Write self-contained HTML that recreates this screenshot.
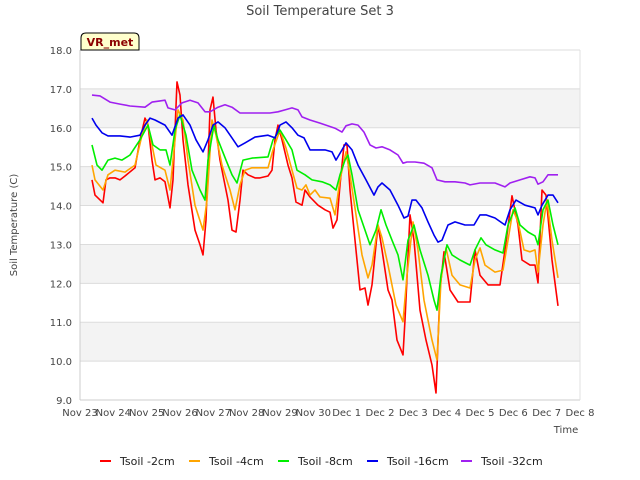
<!DOCTYPE html>
<html><head><meta charset="utf-8"><style>
body{margin:0;background:#fff;font-family:"DejaVu Sans","Liberation Sans",sans-serif;}
svg{display:block}
</style></head><body>
<svg id="chart" width="640" height="480" xmlns="http://www.w3.org/2000/svg">
<text x="320" y="15" text-anchor="middle" font-size="13" fill="#444">Soil Temperature Set 3</text>
<text transform="translate(17,225) rotate(-90)" text-anchor="middle" font-size="10" fill="#444">Soil Temperature (C)</text>
<text x="566" y="433" text-anchor="middle" font-size="10" fill="#444">Time</text>
<g id="bands"></g>
<g id="grid"></g>
<g id="yticks"></g>
<g id="xticks"></g>
<g id="series"></g>
<g>
<path d="M81,50 L81,38 Q81,33 86,33 L134,33 Q139,33 139,38 L139,50 Z" fill="#ffffcc" stroke="#000" stroke-width="1"/>
<text x="110" y="46" text-anchor="middle" font-size="11" font-weight="bold" fill="#8b0000">VR_met</text>
</g>
<g id="legend"></g>
</svg>
<script>
const xTickLabels=["Nov 23","Nov 24","Nov 25","Nov 26","Nov 27","Nov 28","Nov 29","Nov 30","Dec 1","Dec 2","Dec 3","Dec 4","Dec 5","Dec 6","Dec 7","Dec 8"];
const yTicks=[9,10,11,12,13,14,15,16,17,18];
const seriesNames=["Tsoil -2cm","Tsoil -4cm","Tsoil -8cm","Tsoil -16cm","Tsoil -32cm"];
const t2=[0.36,0.45,0.69,0.78,0.9,1.05,1.2,1.35,1.65,1.8,1.95,2.04,2.16,2.25,2.4,2.55,2.7,2.79,2.91,3.0,3.09,3.24,3.45,3.6,3.69,3.78,3.9,3.99,4.08,4.2,4.44,4.56,4.68,4.8,4.89,5.04,5.25,5.4,5.64,5.76,5.85,5.94,6.06,6.24,6.36,6.48,6.66,6.75,6.9,7.14,7.35,7.5,7.59,7.71,7.8,7.92,8.01,8.1,8.25,8.4,8.55,8.64,8.76,8.94,9.06,9.24,9.36,9.51,9.69,9.75,9.9,10.02,10.2,10.38,10.56,10.68,10.8,10.92,11.1,11.34,11.7,11.85,12.0,12.24,12.6,12.75,12.96,13.14,13.26,13.5,13.65,13.74,13.86,13.98,14.16,14.34];
const v2=[14.66,14.27,14.07,14.66,14.71,14.71,14.66,14.76,14.97,15.69,16.25,16.07,15.17,14.66,14.71,14.61,13.94,14.66,17.18,16.84,15.69,14.53,13.37,12.99,12.73,13.63,16.46,16.79,15.94,15.17,14.14,13.37,13.32,14.14,14.91,14.79,14.71,14.71,14.76,14.91,15.69,16.07,15.69,15.04,14.71,14.09,14.01,14.40,14.22,14.01,13.89,13.83,13.42,13.63,14.53,15.56,15.56,14.40,13.11,11.83,11.88,11.44,11.96,13.50,12.86,11.83,11.57,10.54,10.16,11.06,13.76,13.11,11.31,10.54,9.90,9.18,11.83,12.81,11.83,11.52,11.52,12.86,12.21,11.96,11.96,12.86,14.25,13.50,12.60,12.47,12.47,12.01,14.40,14.27,12.60,11.42];
const t4=[0.36,0.45,0.69,0.84,1.05,1.35,1.65,1.86,2.01,2.16,2.28,2.55,2.7,2.82,2.94,3.09,3.24,3.45,3.69,3.81,3.96,4.08,4.26,4.5,4.65,4.8,4.95,5.16,5.4,5.64,5.79,6.0,6.18,6.36,6.51,6.66,6.78,6.9,7.05,7.2,7.5,7.65,7.8,7.98,8.1,8.28,8.46,8.64,8.76,8.94,9.06,9.24,9.48,9.69,9.81,9.99,10.14,10.32,10.56,10.71,10.83,10.98,11.16,11.4,11.7,11.85,12.0,12.15,12.45,12.69,12.84,12.99,13.14,13.32,13.5,13.65,13.74,13.89,14.01,14.16,14.34];
const v4=[15.04,14.66,14.40,14.79,14.91,14.86,15.04,15.81,16.20,15.56,15.04,14.91,14.40,15.43,16.46,16.20,15.17,14.01,13.37,14.14,16.20,15.81,15.04,14.40,13.89,14.53,14.91,14.97,14.97,14.97,15.43,15.94,15.48,14.91,14.45,14.40,14.53,14.27,14.40,14.22,14.19,13.76,14.66,15.38,14.79,13.76,12.73,12.14,12.47,13.50,13.17,12.47,11.44,11.01,12.21,13.58,12.86,11.57,10.54,10.03,12.09,12.91,12.21,11.96,11.88,12.60,12.91,12.47,12.29,12.34,13.11,13.89,13.58,12.86,12.81,12.86,12.29,13.50,14.14,13.11,12.14];
const t8=[0.36,0.51,0.66,0.84,1.05,1.26,1.5,1.8,2.04,2.19,2.4,2.58,2.7,2.85,3.0,3.18,3.36,3.6,3.75,3.84,4.02,4.14,4.38,4.56,4.71,4.89,5.16,5.64,5.79,6.0,6.18,6.36,6.51,6.75,6.96,7.26,7.5,7.68,7.8,7.95,8.04,8.16,8.34,8.55,8.7,8.88,9.03,9.18,9.36,9.54,9.69,9.84,10.02,10.2,10.44,10.62,10.71,10.83,11.01,11.16,11.4,11.7,11.85,12.03,12.18,12.45,12.69,12.84,13.05,13.2,13.44,13.65,13.74,13.89,14.04,14.19,14.34];
const v8=[15.56,15.04,14.91,15.17,15.22,15.17,15.30,15.69,16.07,15.56,15.43,15.43,15.04,15.94,16.33,15.81,14.91,14.40,14.14,15.17,16.07,15.69,15.17,14.79,14.58,15.17,15.22,15.25,15.69,15.94,15.69,15.43,14.91,14.79,14.66,14.61,14.53,14.40,14.79,15.17,15.30,14.79,13.89,13.37,12.99,13.37,13.89,13.50,13.11,12.73,12.09,13.11,13.50,12.86,12.21,11.57,11.31,12.21,12.99,12.73,12.60,12.47,12.86,13.17,12.99,12.86,12.78,13.50,13.94,13.50,13.32,13.22,12.99,13.89,14.14,13.50,12.99];
const t16=[0.36,0.48,0.66,0.84,1.2,1.5,1.8,1.95,2.1,2.25,2.55,2.76,2.94,3.09,3.3,3.48,3.69,3.84,3.99,4.14,4.35,4.56,4.74,4.95,5.25,5.64,5.85,6.0,6.18,6.36,6.54,6.72,6.9,7.14,7.35,7.56,7.68,7.86,7.98,8.16,8.34,8.58,8.82,8.94,9.06,9.3,9.54,9.72,9.84,9.96,10.08,10.26,10.44,10.62,10.74,10.86,11.04,11.25,11.55,11.82,12.0,12.18,12.45,12.75,12.9,13.08,13.35,13.65,13.74,13.86,14.04,14.19,14.34];
const v16=[16.25,16.07,15.87,15.79,15.79,15.76,15.81,16.07,16.25,16.20,16.07,15.81,16.25,16.33,16.07,15.69,15.38,15.69,16.07,16.15,16.0,15.74,15.51,15.61,15.76,15.81,15.74,16.07,16.15,16.0,15.81,15.74,15.43,15.43,15.43,15.38,15.17,15.43,15.61,15.43,15.04,14.66,14.27,14.48,14.58,14.40,14.01,13.68,13.73,14.14,14.14,13.94,13.58,13.24,13.06,13.11,13.50,13.58,13.50,13.50,13.76,13.76,13.68,13.50,13.89,14.14,14.01,13.94,13.76,14.01,14.27,14.27,14.07];
const t32=[0.36,0.6,0.9,1.2,1.5,1.95,2.16,2.4,2.55,2.64,2.85,3.06,3.3,3.54,3.75,3.9,4.14,4.35,4.56,4.8,5.1,5.4,5.7,5.94,6.15,6.36,6.54,6.66,6.9,7.2,7.65,7.86,7.98,8.16,8.34,8.52,8.7,8.88,9.06,9.3,9.54,9.69,9.81,10.05,10.32,10.56,10.71,10.95,11.25,11.55,11.7,12.0,12.45,12.75,12.9,13.2,13.5,13.65,13.74,13.89,14.04,14.34];
const v32=[16.84,16.82,16.66,16.61,16.56,16.53,16.66,16.69,16.71,16.51,16.46,16.64,16.71,16.64,16.41,16.41,16.53,16.59,16.53,16.38,16.38,16.38,16.38,16.41,16.46,16.51,16.46,16.28,16.20,16.12,15.99,15.89,16.05,16.10,16.07,15.89,15.56,15.48,15.51,15.43,15.30,15.09,15.12,15.12,15.09,14.97,14.66,14.61,14.61,14.58,14.53,14.58,14.58,14.48,14.58,14.66,14.74,14.71,14.55,14.61,14.79,14.79];

const NS="http://www.w3.org/2000/svg";
const X0=80,X1=580,Y0=400,Y1=50,DAYS=15,VMIN=9,VMAX=18;
function xs(t){return X0+(t/DAYS)*(X1-X0);}
function ys(v){return Y0-(v-VMIN)/(VMAX-VMIN)*(Y0-Y1);}
function mk(tag,attrs,parent){const e=document.createElementNS(NS,tag);for(const k in attrs)e.setAttribute(k,attrs[k]);parent.appendChild(e);return e;}
const bands=document.getElementById('bands'),grid=document.getElementById('grid'),yt=document.getElementById('yticks'),xt=document.getElementById('xticks');
mk('rect',{x:X0,y:Y1,width:X1-X0,height:Y0-Y1,fill:'#fff'},bands);
for(let v=10;v<18;v+=2){const r=mk('rect',{x:X0,y:ys(v+1),width:X1-X0,height:ys(v)-ys(v+1),fill:'#f3f3f3'},bands);

}
yTicks.forEach(v=>{
const l=mk('line',{x1:X0,x2:X1,y1:ys(v),y2:ys(v),stroke:'#dcdcdc','stroke-width':1},grid);


const tx=mk('text',{x:X0-8,y:ys(v)+4,'text-anchor':'end','font-size':10,fill:'#444'},yt);
tx.textContent=v.toFixed(1);


});
xTickLabels.forEach((s,i)=>{
const tx=mk('text',{x:xs(i),y:Y0+16,'text-anchor':'middle','font-size':10,fill:'#444'},xt);
tx.textContent=s;


});
mk('line',{x1:X0,x2:X0,y1:Y1,y2:Y0,stroke:'#ccc'},grid);
mk('line',{x1:X0,x2:X1,y1:Y0,y2:Y0,stroke:'#ccc'},grid);
mk('line',{x1:X1,x2:X1,y1:Y1,y2:Y0,stroke:'#e0e0e0'},grid);
const colors=["#ff0000","#ffa500","#00ee00","#0000ee","#a020f0"];
const data=[[t2,v2],[t4,v4],[t8,v8],[t16,v16],[t32,v32]];
const sg=document.getElementById('series');
data.forEach((d,i)=>{
const n=Math.min(d[0].length,d[1].length);let p='';
for(let k=0;k<n;k++)p+=(k?'L':'M')+xs(d[0][k]).toFixed(1)+','+ys(d[1][k]).toFixed(1);
const path=mk('path',{d:p,fill:'none',stroke:colors[i],'stroke-width':1.6,'stroke-linejoin':'round'},sg);


});
const lg=document.getElementById('legend');
const lx=[100,189,278,367,461];
seriesNames.forEach((s,i)=>{
const g=mk('g',{},lg);


mk('line',{x1:lx[i],x2:lx[i]+11,y1:461,y2:461,stroke:colors[i],'stroke-width':2},g);
const tx=mk('text',{x:lx[i]+20,y:465,'font-size':11,fill:'#222'},g);
tx.textContent=s;
});
</script>
</body></html>
